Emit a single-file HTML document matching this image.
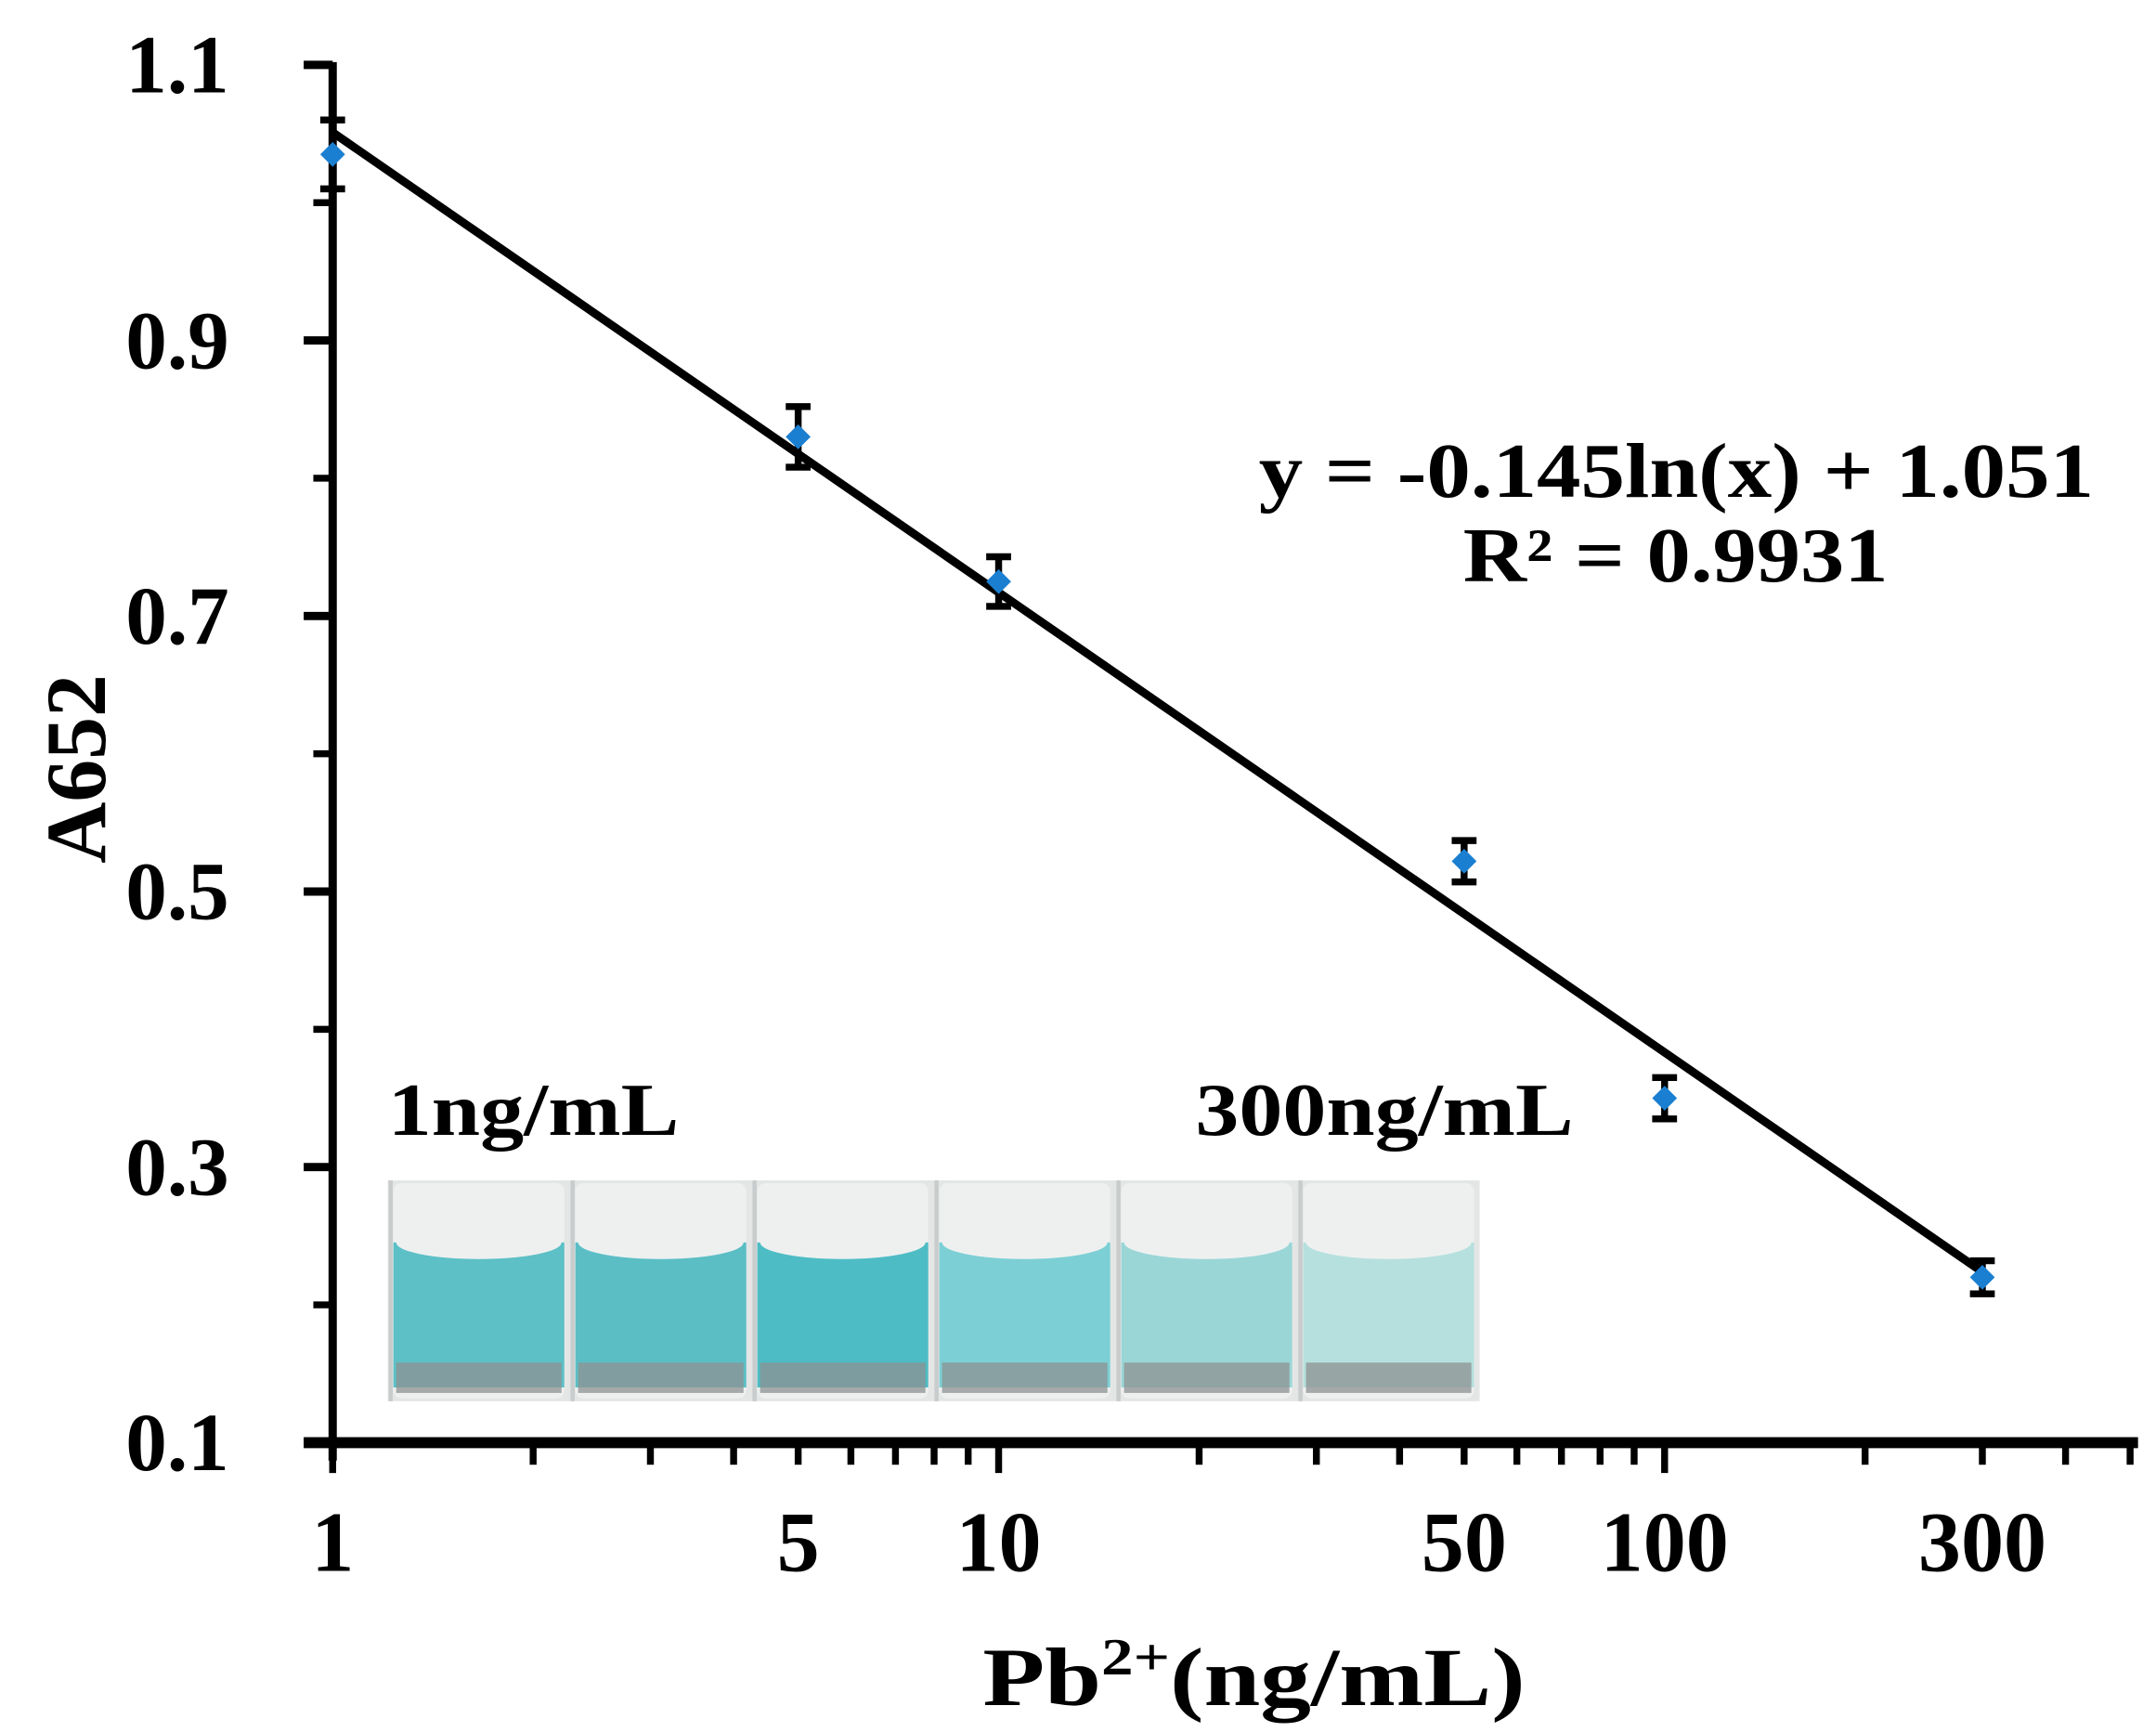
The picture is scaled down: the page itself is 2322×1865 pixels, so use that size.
<!DOCTYPE html>
<html><head><meta charset="utf-8"><style>
html,body{margin:0;padding:0;background:#fff}
svg{display:block}
text{font-family:"Liberation Serif",serif;font-weight:bold;fill:#000}
</style></head><body>
<svg id="chart" width="2322" height="1865" viewBox="0 0 1562 1254.6" xmlns="http://www.w3.org/2000/svg">
<g id="photo"></g>
<g id="axes"></g>
<g id="marks"></g>
<text x="0" y="0" font-size="62" text-anchor="middle" textLength="137" lengthAdjust="spacingAndGlyphs" transform="translate(76,557) rotate(-90)">A652</text>
<text x="712" y="1235" font-size="60" textLength="393" lengthAdjust="spacingAndGlyphs">Pb<tspan font-size="38" dy="-22">2+</tspan><tspan dy="22">(ng/mL)</tspan></text>
<text x="912" y="360" font-size="56" textLength="605" lengthAdjust="spacingAndGlyphs">y = -0.145ln(x) + 1.051</text>
<text x="1060" y="421" font-size="56" textLength="308" lengthAdjust="spacingAndGlyphs">R² = 0.9931</text>
<text x="281" y="822" font-size="54" textLength="211" lengthAdjust="spacingAndGlyphs">1ng/mL</text>
<text x="866" y="822" font-size="54" textLength="274" lengthAdjust="spacingAndGlyphs">300ng/mL</text>
</svg>
<script>
const xValues = [1, 5, 10, 50, 100, 300];
const yValues = [1.035, 0.83, 0.725, 0.522, 0.35, 0.22];
const yErrors = [0.025, 0.022, 0.018, 0.015, 0.015, 0.012];
const yTicks = [0.1, 0.3, 0.5, 0.7, 0.9, 1.1];
const yMinorTicks = [0.2, 0.4, 0.6, 0.8, 1.0];
const xTickLabels = [1, 5, 10, 50, 100, 300];
const fitSlope = -0.145;
const fitIntercept = 1.051;
const vialColors = ["#5cc0c6", "#5bbec5", "#4dbcc5", "#7ccfd4", "#9bd6d7", "#b6e0dd"];

const NS = "http://www.w3.org/2000/svg";
const X0 = 241, DEC = 482.5, Y0 = 1045, YSC = 998 / 1.0;
function sx(v){ return X0 + Math.log10(v) * DEC; }
function sy(v){ return Y0 - (v - 0.1) * YSC; }
function mk(tag, attrs, parent){
  const e = document.createElementNS(NS, tag);
  for (const k in attrs) e.setAttribute(k, attrs[k]);
  parent.appendChild(e); return e;
}
const axes = document.getElementById('axes');
const marks = document.getElementById('marks');
const photo = document.getElementById('photo');

const PX = 281, PY = 855, PW = 791, PH = 160, VW = PW / vialColors.length;
let bg = mk('rect', {x: PX, y: PY, width: PW, height: PH, fill: '#e4e6e6'}, photo);


vialColors.forEach((c, i) => {
  const vx = PX + i * VW;
  const g = mk('g', {}, photo);
  
  
  mk('rect', {x: vx + 4, y: PY + 2, width: VW - 8, height: PH - 4, fill: '#eef0f0', rx: 6}, g);
  mk('rect', {x: vx + 4, y: PY + 45, width: VW - 8, height: 105, fill: c}, g);
  mk('ellipse', {cx: vx + VW / 2, cy: PY + 45, rx: VW / 2 - 6, ry: 12, fill: '#eef0f0'}, g);
  mk('rect', {x: vx + 6, y: PY + 132, width: VW - 12, height: 22, fill: '#8d9192', opacity: 0.75}, g);
  mk('line', {x1: vx + 2, y1: PY, x2: vx + 2, y2: PY + PH, stroke: '#c9cccc', 'stroke-width': 3}, g);
});

let yl = mk('line', {x1: X0, y1: sy(1.1) - 2, x2: X0, y2: Y0 + 13, stroke: '#000', 'stroke-width': 6}, axes);


yTicks.forEach(t => {
  mk('line', {x1: 220, y1: sy(t), x2: X0, y2: sy(t), stroke: '#000', 'stroke-width': 6}, axes);
  const tx = mk('text', {x: 166, y: sy(t) + 20, 'font-size': 60, 'text-anchor': 'end'}, axes);
  tx.textContent = t.toFixed(1);
  
  
});
yMinorTicks.forEach(t => {
  mk('line', {x1: 227, y1: sy(t), x2: X0, y2: sy(t), stroke: '#000', 'stroke-width': 5}, axes);
});

let xl = mk('line', {x1: 220, y1: Y0, x2: 1549, y2: Y0, stroke: '#000', 'stroke-width': 8}, axes);


for (let d = 1; d <= 100; d *= 10) {
  for (let m = 1; m <= 9; m++) {
    const v = d * m;
    const px = sx(v);
    if (px > 1549) continue;
    const major = (m === 1);
    mk('line', {x1: px, y1: Y0, x2: px, y2: Y0 + (major ? 22 : 16), stroke: '#000', 'stroke-width': 5}, axes);
  }
}
xTickLabels.forEach(v => {
  const tx = mk('text', {x: sx(v), y: 1138, 'font-size': 62, 'text-anchor': 'middle'}, axes);
  tx.textContent = v;
  
  
});

const fit = v => fitSlope * Math.log(v) + fitIntercept;
let tl = mk('line', {x1: sx(1), y1: sy(fit(1)), x2: sx(300), y2: sy(fit(300)), stroke: '#000', 'stroke-width': 6}, marks);



xValues.forEach((v, i) => {
  const px = sx(v), top = sy(yValues[i] + yErrors[i]), bot = sy(yValues[i] - yErrors[i]);
  const eb = mk('path', {d: `M${px},${top}V${bot}M${px-9},${top}H${px+9}M${px-9},${bot}H${px+9}`, stroke: '#000', 'stroke-width': 5, fill: 'none'}, marks);
  
  
  const py = sy(yValues[i]);
  const pt = mk('path', {d: `M${px},${py-9}L${px+9},${py}L${px},${py+9}L${px-9},${py}Z`, fill: '#1a7fd0'}, marks);
  
  
});
</script>
</body></html>
